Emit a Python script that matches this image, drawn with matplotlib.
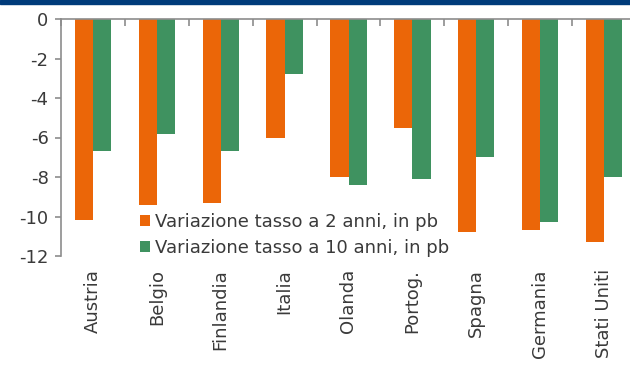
import matplotlib
matplotlib.use("Agg")
import matplotlib.pyplot as plt
import numpy as np
from matplotlib.patches import Rectangle

categories = ["Austria", "Belgio", "Finlandia", "Italia", "Olanda", "Portog.",
              "Spagna", "Germania", "Stati Uniti"]
var_2y = [-10.2, -9.4, -9.3, -6.0, -8.0, -5.5, -10.8, -10.7, -11.3]
var_10y = [-6.7, -5.8, -6.7, -2.8, -8.4, -8.1, -7.0, -10.3, -8.0]
labels = ["Variazione tasso a 2 anni, in pb", "Variazione tasso a 10 anni, in pb"]

orange = "#EB6608"
green = "#3F9260"
gray = "#8C8C8C"
textc = "#3A3A3A"

plt.rcParams['font.family'] = ['DejaVu Sans']

fig = plt.figure(figsize=(6.3, 3.72), dpi=100)
fig.patches.append(Rectangle((0, 1 - 4/372), 1, 4/372, transform=fig.transFigure,
                             color="#003B7A", zorder=10))
ax = fig.add_axes([61/630, 1 - 256/372, (636 - 61)/630, (256 - 19)/372])

x = np.arange(len(categories))
w = 0.285
ax.bar(x - w/2, var_2y, width=w, color=orange, label=labels[0])
ax.bar(x + w/2, var_10y, width=w, color=green, label=labels[1])

ax.set_xlim(-0.5, len(categories) - 0.5)
ax.set_ylim(-12, 0)
ax.set_yticks(np.arange(-12, 1, 2))
ax.set_yticklabels([str(v) for v in range(-12, 1, 2)], fontsize=13, color=textc)

for s in ["right", "bottom"]:
    ax.spines[s].set_visible(False)
ax.spines["left"].set_color(gray)
ax.spines["top"].set_color(gray)
ax.spines["left"].set_linewidth(1.2)
ax.spines["top"].set_linewidth(1.2)

ax.tick_params(axis='y', direction='out', length=4, color=gray, width=1.2, pad=5)
ax.set_xticks(x)
ax.set_xticklabels(categories, rotation=90, fontsize=13, va='top', ha='center',
                   color=textc)
ax.tick_params(axis='x', which='major', bottom=False, top=False, labelbottom=True, pad=6)
ax.set_xticks(np.arange(-0.5, len(categories), 1), minor=True)
ax.tick_params(axis='x', which='minor', top=True, bottom=False, direction='in',
               length=5, color=gray, width=1.2)

leg = ax.legend(loc='upper left', bbox_to_anchor=(140/630, 1 - 213/372),
                bbox_transform=fig.transFigure, frameon=False, fontsize=13,
                handlelength=0.55, handleheight=0.55, handletextpad=0.3,
                labelspacing=0.42, borderaxespad=0, borderpad=0)
for t in leg.get_texts():
    t.set_color(textc)

fig.savefig("out.png", dpi=100)
